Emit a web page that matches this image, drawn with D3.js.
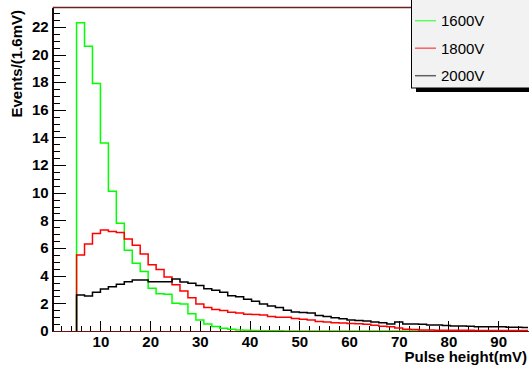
<!DOCTYPE html>
<html>
<head>
<meta charset="utf-8">
<script src="https://cdn.jsdelivr.net/npm/d3@7/dist/d3.min.js"></script>
<style>
    body { margin: 0; background: white; }
    svg { display: block; }
    .axis text { font-family: "Liberation Sans", Arial, Helvetica, sans-serif; font-weight: bold; font-size: 15px; fill: black; }
    .axis line { stroke: black; shape-rendering: crispEdges; }
    .axis path { shape-rendering: crispEdges; }
    .title { font-family: "Liberation Sans", Arial, Helvetica, sans-serif; font-weight: bold; font-size: 15px; }
    .legend text { font-family: "Liberation Sans", Arial, Helvetica, sans-serif; font-size: 15px; }
</style>
</head>
<body>
<div id="chart"></div>
<script>
// histogram bins: low edge of first filled bin, bin width 1.6 mV
var firstBin = 5.2;
var binWidth = 1.6;

var seriesNames = ["1600V", "1800V", "2000V"];
var seriesColors = ["#00ff00", "#ff0000", "#000000"];

var v1600 = [22.3, 20.6, 17.9, 13.6, 10.1, 7.8, 5.85, 4.9, 4.3, 3.1,
    2.7, 2.65, 2.0, 1.95, 1.25, 0.8, 0.5, 0.32, 0.2, 0.12,
    0.08, 0.05, 0.03, 0.02, 0.01, 0.01, 0, 0, 0, 0,
    0, 0, 0, 0, 0, 0, 0, 0, 0, 0,
    0, 0, 0, 0, 0, 0, 0, 0, 0, 0,
    0, 0, 0, 0, 0, 0, 0];
var v1800 = [5.5, 6.3, 7.06, 7.3, 7.2, 7.13, 6.65, 6.2, 5.57, 4.8,
    4.45, 3.9, 3.35, 2.9, 2.4, 1.95, 1.7, 1.55, 1.48, 1.35,
    1.3, 1.22, 1.2, 1.15, 1.05, 1.0, 1.0, 0.9, 0.85, 0.8,
    0.68, 0.65, 0.6, 0.58, 0.55, 0.52, 0.48, 0.42, 0.35, 0.3,
    0.22, 0.12, 0.1, 0.08, 0.07, 0.06, 0.06, 0.05, 0.05, 0.05,
    0.04, 0.04, 0.04, 0.04, 0.03, 0.03, 0.03];
var v2000 = [2.6, 2.53, 2.8, 3.04, 3.2, 3.38, 3.57, 3.69, 3.69, 3.57,
    3.57, 3.57, 3.76, 3.55, 3.45, 3.3, 3.05, 2.95, 2.8, 2.55,
    2.48, 2.3, 2.15, 1.95, 1.8, 1.7, 1.5, 1.38, 1.33, 1.3,
    1.12, 1.05, 0.95, 0.88, 0.8, 0.76, 0.72, 0.65, 0.6, 0.5,
    0.65, 0.5, 0.5, 0.48, 0.43, 0.43, 0.4, 0.36, 0.36, 0.35,
    0.31, 0.31, 0.31, 0.3, 0.28, 0.27, 0.25];

var xTicks = [10, 20, 30, 40, 50, 60, 70, 80, 90];
var yTicks = [0, 2, 4, 6, 8, 10, 12, 14, 16, 18, 20, 22];

var W = 529, H = 369;
var plotL = 52.7, plotR = 528, plotT = 7.5, plotB = 331;

var svg = d3.select("#chart").append("svg")
    .attr("width", W)
    .attr("height", H);

var x = d3.scaleLinear().domain([0.4, 96]).range([plotL, plotR]);
var y = d3.scaleLinear().domain([0, 23.4]).range([plotB, plotT]);

svg.append("defs").append("clipPath").attr("id", "plot")
    .append("rect")
    .attr("x", plotL).attr("y", plotT - 2)
    .attr("width", plotR - plotL).attr("height", plotB - plotT + 2);

// minor ticks
svg.append("g")
    .attr("class", "axis")
    .attr("transform", "translate(" + plotL + ",0)")
    .call(d3.axisLeft(y).tickValues(d3.range(0, 23.5, 0.5)).tickSize(-7).tickFormat(""))
    .select(".domain").remove();

svg.append("g")
    .attr("class", "axis")
    .attr("transform", "translate(0," + plotB + ")")
    .call(d3.axisBottom(x).tickValues(d3.range(2, 96, 2)).tickSize(-5).tickFormat(""))
    .select(".domain").remove();

// major axes
var yAxis = d3.axisLeft(y)
    .tickValues(yTicks)
    .tickSize(-13)
    .tickSizeOuter(0)
    .tickPadding(4)
    .tickFormat(d3.format("d"));

svg.append("g")
    .attr("class", "axis")
    .attr("transform", "translate(" + plotL + ",0)")
    .call(yAxis)
    .select(".domain").attr("stroke", "#1a0a0a").attr("stroke-width", 1.5);

var xAxis = d3.axisBottom(x)
    .tickValues(xTicks)
    .tickSize(-10)
    .tickSizeOuter(0)
    .tickPadding(5)
    .tickFormat(d3.format("d"));

svg.append("g")
    .attr("class", "axis")
    .attr("transform", "translate(0," + plotB + ")")
    .call(xAxis)
    .select(".domain").attr("stroke", "#6b1010").attr("stroke-width", 1.5);

// top frame line
svg.append("line")
    .attr("x1", plotL).attr("x2", W)
    .attr("y1", plotT).attr("y2", plotT)
    .attr("stroke", "#6b2222")
    .attr("stroke-width", 1.5);

// histograms
var line = d3.line()
    .x(function (d) { return x(d.x); })
    .y(function (d) { return y(d.v); })
    .curve(d3.curveStepAfter);

function steps(values) {
    var pts = [{ x: firstBin, v: 0 }];
    values.forEach(function (v, i) {
        pts.push({ x: firstBin + i * binWidth, v: v });
    });
    pts.push({ x: firstBin + values.length * binWidth, v: values[values.length - 1] });
    return pts;
}

var allSeries = [v1600, v1800, v2000];

svg.append("g")
    .attr("clip-path", "url(#plot)")
    .selectAll("path")
    .data(allSeries)
    .enter().append("path")
    .attr("d", function (d) { return line(steps(d)); })
    .attr("fill", "none")
    .attr("stroke", function (d, i) { return seriesColors[i]; })
    .attr("stroke-width", 1.5);

// axis titles
svg.append("text")
    .attr("class", "title")
    .attr("transform", "translate(22,10) rotate(-90)")
    .attr("text-anchor", "end")
    .text("Events/(1.6mV)");

svg.append("text")
    .attr("class", "title")
    .attr("x", 527)
    .attr("y", 362)
    .attr("text-anchor", "end")
    .text("Pulse height(mV)");

// legend
var legend = svg.append("g").attr("class", "legend");

legend.append("rect")
    .attr("x", 416).attr("y", 4)
    .attr("width", 120).attr("height", 88)
    .attr("fill", "black");

legend.append("rect")
    .attr("x", 411.5).attr("y", -1)
    .attr("width", 125).attr("height", 89)
    .attr("fill", "#f2f2f2")
    .attr("stroke", "black");

var entries = legend.selectAll("g.entry")
    .data(seriesNames)
    .enter().append("g")
    .attr("class", "entry")
    .attr("transform", function (d, i) { return "translate(0," + (20.7 + i * 27.5) + ")"; });

entries.append("line")
    .attr("x1", 415).attr("x2", 436)
    .attr("stroke", function (d, i) { return seriesColors[i]; })
    .attr("stroke-opacity", 0.6)
    .attr("stroke-width", 1.5);

entries.append("text")
    .attr("x", 441)
    .attr("dy", "0.36em")
    .text(function (d) { return d; });
</script>
</body>
</html>
